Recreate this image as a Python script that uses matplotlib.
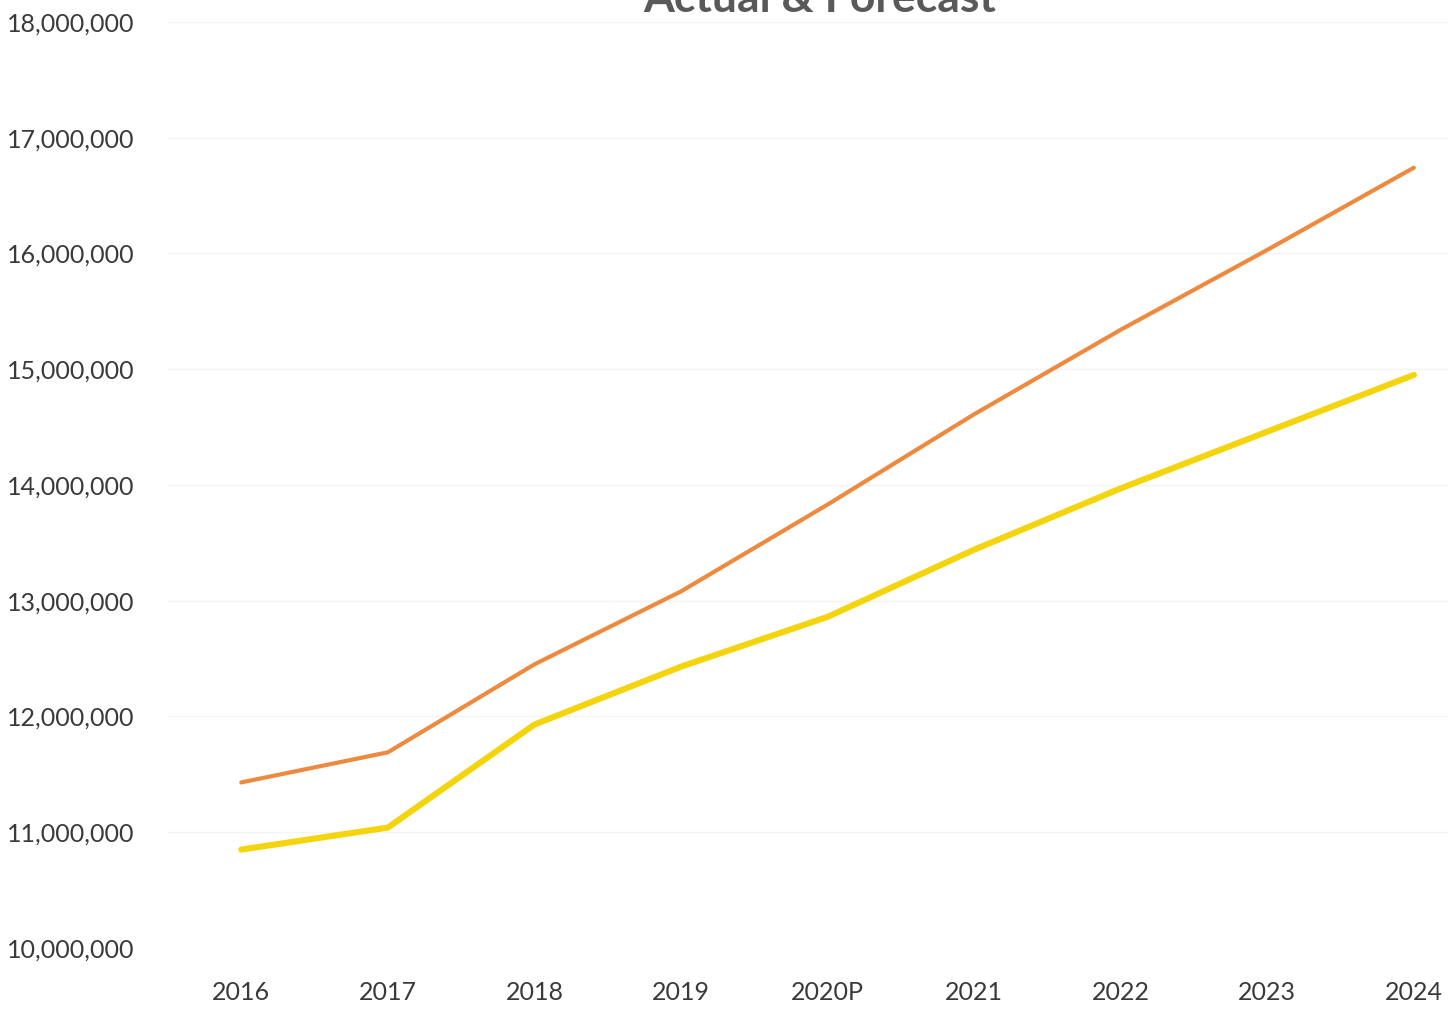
import numpy as np
import matplotlib.pyplot as plt
from matplotlib.ticker import FuncFormatter

years = ["2016", "2017", "2018", "2019", "2020P", "2021", "2022", "2023", "2024"]
upper_values = [11430000, 11690000, 12450000, 13080000, 13830000,
                14610000, 15340000, 16030000, 16740000]
lower_values = [10850000, 11040000, 11930000, 12430000, 12860000,
                13440000, 13970000, 14460000, 14950000]
y_ticks = [10000000, 11000000, 12000000, 13000000, 14000000,
           15000000, 16000000, 17000000, 18000000]

label_font = ['Lato', 'DejaVu Sans']

fig = plt.figure(figsize=(14.48, 10.10), dpi=100)
ax = fig.add_axes([0.116, 0.0614, 0.884, 0.917])

x = np.arange(len(years))
ax.plot(x, upper_values, color='#EE8A40', linewidth=3.0, solid_capstyle='round')
ax.plot(x, lower_values, color='#F4D40C', linewidth=4.4, solid_capstyle='round')

ax.set_xlim(-0.5, 8.233)
ax.set_ylim(10000000, 18000000)
ax.set_yticks(y_ticks)
ax.yaxis.set_major_formatter(FuncFormatter(lambda v, p: '{:,.0f}'.format(v)))
ax.set_xticks(x)
ax.set_xticklabels(years)

# very faint horizontal gridlines
ax.grid(axis='y', color='#F4F4F4', linewidth=1.0)
ax.set_axisbelow(True)
for s in ax.spines.values():
    s.set_visible(False)
ax.tick_params(axis='both', length=0, colors='#3A3A3A', labelsize=18)
ax.tick_params(axis='y', pad=24)
ax.tick_params(axis='x', pad=24)
for lbl in ax.get_xticklabels() + ax.get_yticklabels():
    lbl.set_family(label_font)

fig.text(0.566, 0.988, "Actual & Forecast", ha='center', va='baseline',
         fontsize=32, fontweight='bold', color='#595959', family=['Lato', 'DejaVu Sans'])

fig.savefig('out.png', dpi=100)
